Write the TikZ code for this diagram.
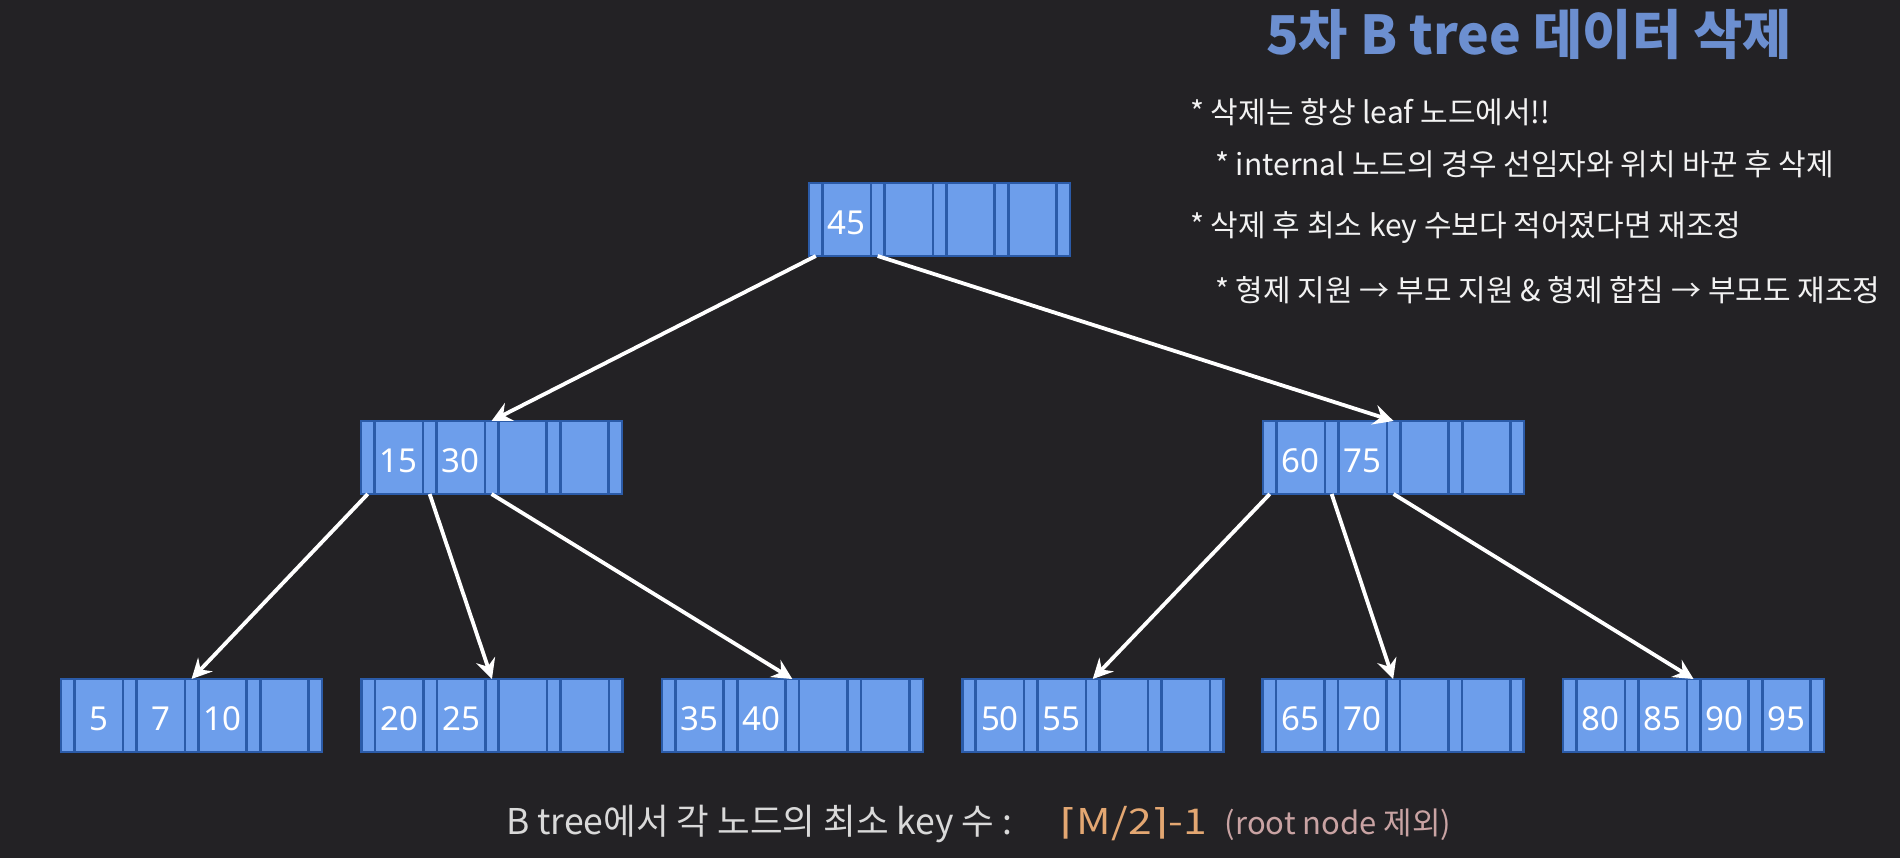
\documentclass[tikz,border=0pt]{standalone}
\usepackage{fontspec}
\usepackage{graphicx}
\setmainfont{Noto Sans}
\newfontfamily\kr{Noto Sans CJK KR}
\newfontfamily\djv{DejaVu Sans}
\usetikzlibrary{arrows.meta}
\definecolor{bg}{HTML}{232225}
\definecolor{cellfill}{HTML}{6D9EEB}
\definecolor{celledge}{HTML}{2B5BA8}
\definecolor{titleblue}{HTML}{6C8FD0}
\definecolor{bottomgray}{HTML}{D9D9D9}
\definecolor{formula}{HTML}{E3A772}
\definecolor{rootnote}{HTML}{C9A3A3}
\definecolor{bullettext}{HTML}{F2F2F2}
\tikzset{
  cellbase/.style={draw=celledge, line width=2.6pt, fill=cellfill, inner sep=0pt, outer sep=0pt, minimum height=73pt, anchor=north west},
  ptrcell/.style={cellbase, minimum width=13.5pt},
  keycell/.style={cellbase, minimum width=48.4pt, text=white, font=\fontsize{33}{33}\selectfont},
  link/.style={draw=white, line width=3.8pt, -{Stealth[length=20pt,width=20pt,inset=7pt]}},
  bullet/.style={anchor=west, inner sep=0pt, text=bullettext, font=\kr\fontsize{30}{30}\selectfont},
  titletext/.style={anchor=base west, inner sep=0pt, text=titleblue, font=\kr\bfseries\fontsize{53.5}{53.5}\selectfont},
  bottomtext/.style={anchor=west, inner sep=0pt, font=\kr\fontsize{35.5}{35.5}\selectfont},
}
\newcommand{\keytxt}[1]{\raisebox{-15.3pt}[0pt][0pt]{#1}}
\newcommand{\btnode}[7]{%
  \node[ptrcell] (#1-p1) at (#2,#3) {};
  \node[keycell] (#1-k1) at ({#2+13.5},#3) {\keytxt{#4}};
  \node[ptrcell] (#1-p2) at ({#2+61.9},#3) {};
  \node[keycell] (#1-k2) at ({#2+75.4},#3) {\keytxt{#5}};
  \node[ptrcell] (#1-p3) at ({#2+123.8},#3) {};
  \node[keycell] (#1-k3) at ({#2+137.3},#3) {\keytxt{#6}};
  \node[ptrcell] (#1-p4) at ({#2+185.7},#3) {};
  \node[keycell] (#1-k4) at ({#2+199.2},#3) {\keytxt{#7}};
  \node[ptrcell] (#1-p5) at ({#2+247.6},#3) {};
}
\begin{document}
\begin{tikzpicture}[x=1pt,y=-1pt]
  \fill[bg] (0,0) rectangle (1900,858);
  \useasboundingbox (0,0) rectangle (1900,858);

  % nodes
  \btnode{root}{809}{183}{45}{}{}{}
  \btnode{ml}{361}{421}{15}{30}{}{}
  \btnode{mr}{1263}{421}{60}{75}{}{}
  \btnode{la}{61}{679}{5}{7}{10}{}
  \btnode{lb}{361.4}{679}{20}{25}{}{}
  \btnode{lc}{661.8}{679}{35}{40}{}{}
  \btnode{ld}{962.2}{679}{50}{55}{}{}
  \btnode{le}{1262.6}{679}{65}{70}{}{}
  \btnode{lf}{1563}{679}{80}{85}{90}{95}

  % connectors
  \draw[link] (root-p1.south) -- (ml-p3.north);
  \draw[link] (root-p2.south) -- (mr-p3.north);
  \draw[link] (ml-p1.south) -- (la-p3.north);
  \draw[link] (ml-p2.south) -- (lb-p3.north);
  \draw[link] (ml-p3.south) -- (lc-p3.north);
  \draw[link] (mr-p1.south) -- (ld-p3.north);
  \draw[link] (mr-p2.south) -- (le-p3.north);
  \draw[link] (mr-p3.south) -- (lf-p3.north);

  % texts
  \node[titletext] (title) at (1266,55) {5차 B tree 데이터 삭제};
  \node[bullet] (b1) at (1190,112) {* 삭제는 항상 leaf 노드에서!!};
  \node[bullet] (b2) at (1215,164) {* internal 노드의 경우 선임자와 위치 바꾼 후 삭제};
  \node[bullet] (b3) at (1190,228) {* 삭제 후 최소 key 수보다 적어졌다면 재조정};
  \node[bullet] (b4) at (1215,290) {* 형제 지원 → 부모 지원 \& 형제 합침 → 부모도 재조정};
  \node[bottomtext] (note) at (506,824) {\textcolor{bottomgray}{B tree에서 각 노드의 최소 key 수 :}\hspace{48pt}\textcolor{formula}{\scalebox{1.2}[1]{{\djv ⌈}M/2{\djv ⌉}-1}}\hspace{18pt}\textcolor{rootnote}{\fontsize{31}{31}\selectfont(root node 제외)}};
\end{tikzpicture}
\end{document}
